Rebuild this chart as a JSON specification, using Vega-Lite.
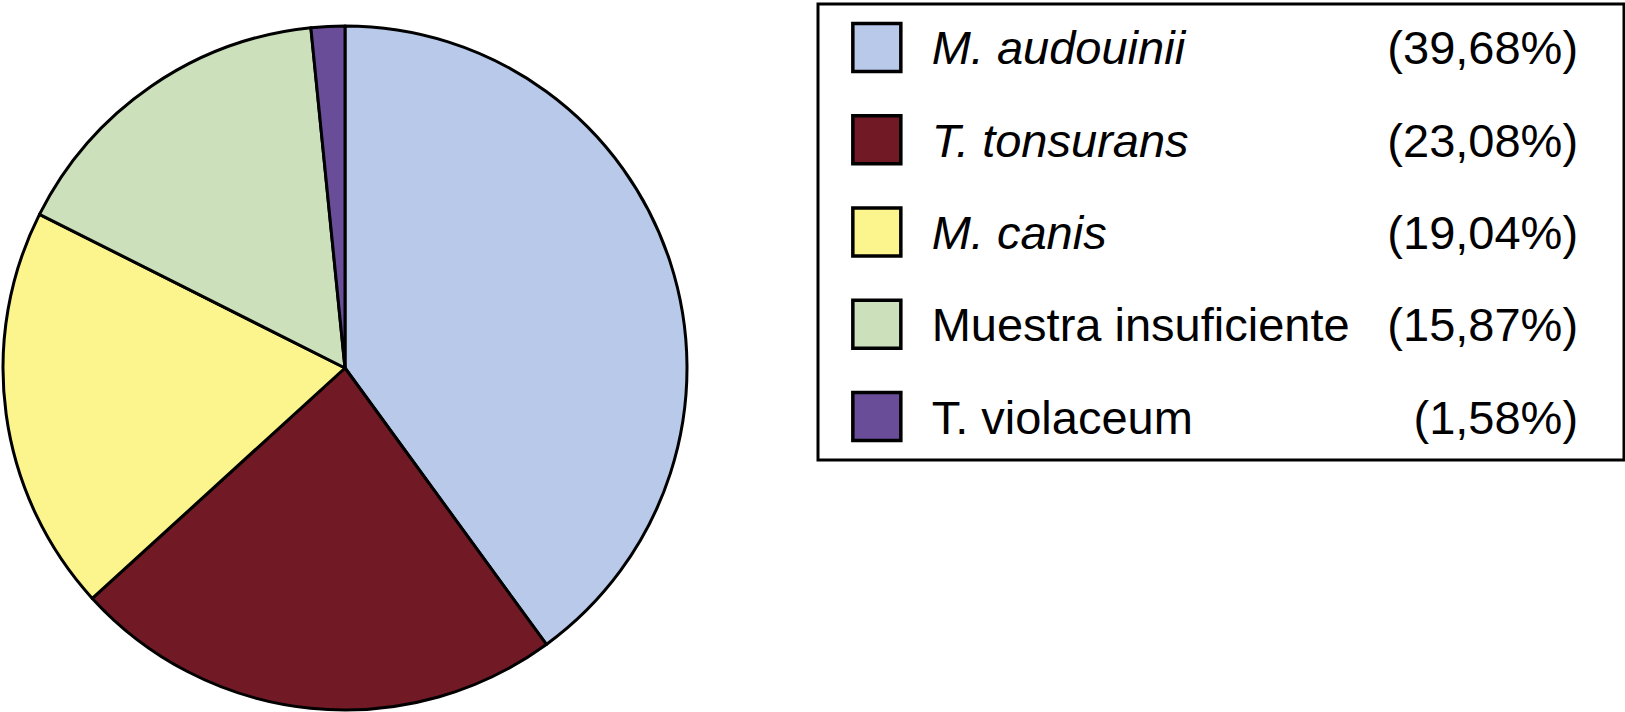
{
  "$schema": "https://vega.github.io/schema/vega-lite/v6.json",
  "padding": {"top": 2, "left": 0, "right": 0, "bottom": 0},
  "background": "white",
  "spacing": 126,
  "datasets": {
    "d": [
      {"especie": "M. audouinii", "pct": 39.68, "etiqueta": "(39,68%)", "orden": 1, "cursiva": true},
      {"especie": "T. tonsurans", "pct": 23.08, "etiqueta": "(23,08%)", "orden": 2, "cursiva": true},
      {"especie": "M. canis", "pct": 19.04, "etiqueta": "(19,04%)", "orden": 3, "cursiva": true},
      {"especie": "Muestra insuficiente", "pct": 15.87, "etiqueta": "(15,87%)", "orden": 4, "cursiva": false},
      {"especie": "T. violaceum", "pct": 1.58, "etiqueta": "(1,58%)", "orden": 5, "cursiva": false}
    ]
  },
  "config": {
    "font": "Liberation Sans"
  },
  "hconcat": [
    {
      "width": 690,
      "height": 708,
      "view": {"stroke": null},
      "data": {"name": "d"},
      "mark": {"type": "arc", "outerRadius": 342, "stroke": "black", "strokeWidth": 3, "yOffset": 10, "strokeJoin": "round"},
      "encoding": {
        "theta": {"field": "pct", "type": "quantitative", "stack": true},
        "order": {"field": "orden", "type": "quantitative"},
        "color": {
          "field": "especie",
          "type": "nominal",
          "legend": null,
          "scale": {
            "domain": ["M. audouinii", "T. tonsurans", "M. canis", "Muestra insuficiente", "T. violaceum"],
            "range": ["#B8C9EA", "#711A26", "#FCF58D", "#CCE0BC", "#6A4D99"]
          }
        }
      }
    },
    {
      "width": 806,
      "height": 456,
      "view": {"stroke": "black", "strokeWidth": 3},
      "data": {"name": "d"},
      "encoding": {
        "y": {
          "field": "especie",
          "type": "nominal",
          "sort": {"field": "orden"},
          "axis": null,
          "scale": {"type": "point", "padding": 0.47}
        }
      },
      "layer": [
        {
          "mark": {"type": "point", "shape": "square", "filled": true, "size": 2304, "stroke": "black", "strokeWidth": 3.5, "opacity": 1},
          "encoding": {
            "x": {"datum": 0.073, "type": "quantitative", "axis": null, "scale": {"domain": [0, 1]}},
            "color": {
              "field": "especie",
              "type": "nominal",
              "legend": null,
              "scale": {
                "domain": ["M. audouinii", "T. tonsurans", "M. canis", "Muestra insuficiente", "T. violaceum"],
                "range": ["#B8C9EA", "#711A26", "#FCF58D", "#CCE0BC", "#6A4D99"]
              }
            }
          }
        },
        {
          "transform": [{"filter": "datum.cursiva"}],
          "mark": {"type": "text", "align": "left", "baseline": "middle", "fontSize": 47, "fontStyle": "italic", "color": "black", "dy": 3},
          "encoding": {
            "x": {"datum": 0.141, "type": "quantitative", "axis": null},
            "text": {"field": "especie"}
          }
        },
        {
          "transform": [{"filter": "!datum.cursiva"}],
          "mark": {"type": "text", "align": "left", "baseline": "middle", "fontSize": 47, "color": "black", "dy": 3},
          "encoding": {
            "x": {"datum": 0.141, "type": "quantitative", "axis": null},
            "text": {"field": "especie"}
          }
        },
        {
          "mark": {"type": "text", "align": "right", "baseline": "middle", "fontSize": 47, "color": "black", "dy": 3},
          "encoding": {
            "x": {"datum": 0.943, "type": "quantitative", "axis": null},
            "text": {"field": "etiqueta"}
          }
        }
      ]
    }
  ]
}
